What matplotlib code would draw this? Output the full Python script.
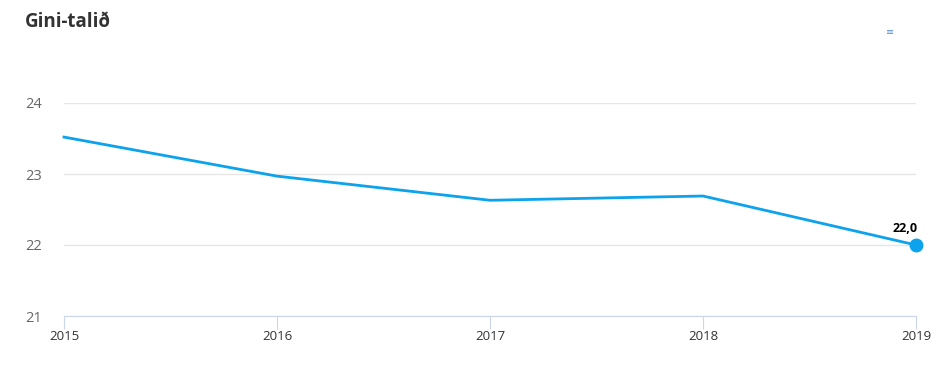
import matplotlib.pyplot as plt

years = [2015, 2016, 2017, 2018, 2019]
gini = [23.52, 22.97, 22.63, 22.69, 22.0]
yticks = [21, 22, 23, 24]

plt.rcParams['font.family'] = ['Open Sans', 'DejaVu Sans']

fig = plt.figure(figsize=(9.36, 3.87), dpi=100)
ax = fig.add_axes([64 / 936, 71 / 387, 852 / 936, 213 / 387])

ax.plot(years, gini, color='#0ca3ec', lw=2, clip_on=False, zorder=3)
ax.plot(years[-1], gini[-1], 'o', color='#0ca3ec', ms=9, clip_on=False, zorder=4)
ax.annotate('22,0', (years[-1], gini[-1]), xytext=(-8, 7), textcoords='offset points',
            ha='center', va='bottom', fontsize=9, fontweight='bold', color='#000000')

ax.set_xlim(2015, 2019)
ax.set_ylim(21, 24)
ax.set_xticks(years)
ax.set_yticks(yticks)
ax.grid(axis='y', color='#e6e6e6', lw=1)
ax.set_axisbelow(True)
for s in ['top', 'right', 'left']:
    ax.spines[s].set_visible(False)
ax.spines['bottom'].set_color('#ccd6eb')
ax.tick_params(axis='x', colors='#ccd6eb', labelcolor='#333333', length=9, labelsize=9.5, pad=1)
ax.tick_params(axis='y', length=0, labelcolor='#666666', labelsize=10.5, pad=16)

fig.text(25 / 936, 1 - 22 / 387, 'Gini-talið', fontsize=13.5, fontweight='bold',
         color='#333333', va='center', ha='left')
fig.text(890 / 936, 1 - 33 / 387, '≡', fontsize=7, color='#5b8fd0', ha='center', va='center')

fig.savefig('out.png', dpi=100)
